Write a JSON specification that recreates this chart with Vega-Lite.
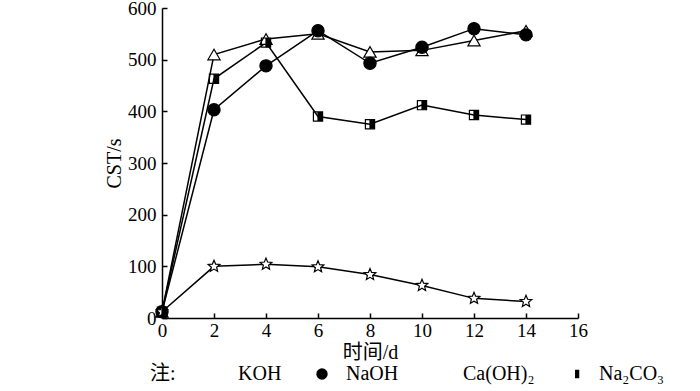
{
  "$schema": "https://vega.github.io/schema/vega-lite/v6.json",
  "autosize": {"type": "none"},
  "width": 416,
  "height": 310,
  "padding": {"left": 162, "top": 8, "right": 122, "bottom": 73},
  "background": "white",
  "config": {
    "view": {"stroke": null},
    "font": "Liberation Serif, DejaVu Serif, Noto Sans CJK SC",
    "axis": {
      "domainColor": "black", "domainWidth": 1.5, "tickColor": "black", "tickWidth": 1.5,
      "labelColor": "black", "titleColor": "black", "labelFontSize": 19, "titleFontSize": 20,
      "titleFontWeight": "normal", "grid": false,
      "labelFont": "Liberation Serif", "titleFont": "Liberation Serif, Noto Sans CJK SC"
    },
    "legend": {"labelFont": "Liberation Serif, DejaVu Serif", "titleFont": "Liberation Serif, Noto Sans CJK SC"}
  },
  "data": {"values": [
    {"t": 0, "v": 12, "s": "KOH"}, {"t": 2, "v": 510, "s": "KOH"}, {"t": 4, "v": 540, "s": "KOH"}, {"t": 6, "v": 550, "s": "KOH"}, {"t": 8, "v": 515, "s": "KOH"}, {"t": 10, "v": 518, "s": "KOH"}, {"t": 12, "v": 537, "s": "KOH"}, {"t": 14, "v": 556, "s": "KOH"},
    {"t": 0, "v": 12, "s": "NaOH"}, {"t": 2, "v": 403, "s": "NaOH"}, {"t": 4, "v": 488, "s": "NaOH"}, {"t": 6, "v": 556, "s": "NaOH"}, {"t": 8, "v": 493, "s": "NaOH"}, {"t": 10, "v": 524, "s": "NaOH"}, {"t": 12, "v": 560, "s": "NaOH"}, {"t": 14, "v": 548, "s": "NaOH"},
    {"t": 0, "v": 12, "s": "Ca(OH)₂"}, {"t": 2, "v": 100, "s": "Ca(OH)₂"}, {"t": 4, "v": 104, "s": "Ca(OH)₂"}, {"t": 6, "v": 99, "s": "Ca(OH)₂"}, {"t": 8, "v": 84, "s": "Ca(OH)₂"}, {"t": 10, "v": 63, "s": "Ca(OH)₂"}, {"t": 12, "v": 38, "s": "Ca(OH)₂"}, {"t": 14, "v": 32, "s": "Ca(OH)₂"},
    {"t": 0, "v": 12, "s": "Na₂CO₃"}, {"t": 2, "v": 463, "s": "Na₂CO₃"}, {"t": 4, "v": 533, "s": "Na₂CO₃"}, {"t": 6, "v": 390, "s": "Na₂CO₃"}, {"t": 8, "v": 375, "s": "Na₂CO₃"}, {"t": 10, "v": 412, "s": "Na₂CO₃"}, {"t": 12, "v": 393, "s": "Na₂CO₃"}, {"t": 14, "v": 384, "s": "Na₂CO₃"}
  ]},
  "encoding": {
    "x": {"field": "t", "type": "quantitative", "scale": {"domain": [0, 16], "nice": false},
      "axis": {"title": "时间/d", "values": [0, 2, 4, 6, 8, 10, 12, 14, 16], "tickSize": -5, "labelPadding": 8, "titlePadding": 2, "labelFlush": false}},
    "y": {"field": "v", "type": "quantitative", "scale": {"domain": [0, 600], "nice": false},
      "axis": {"title": "CST/s", "values": [0, 100, 200, 300, 400, 500, 600], "tickSize": -5, "labelPadding": 11, "titlePadding": 3, "labelFlush": false}}
  },
  "layer": [
    {
      "mark": {"type": "line", "color": "black", "strokeWidth": 1.5},
      "encoding": {"detail": {"field": "s"}}
    },
    {
      "mark": {"type": "point", "filled": true, "opacity": 1, "size": 150},
      "encoding": {
        "stroke": {"value": "black"},
        "strokeWidth": {"value": 1.2},
        "shape": {"field": "s", "type": "nominal", "sort": null,
          "scale": {"domain": ["KOH", "NaOH", "Ca(OH)₂", "Na₂CO₃"],
            "range": ["triangle-up", "circle", "M0,-1L0.265,-0.364L0.951,-0.309L0.428,0.139L0.588,0.809L0,0.45L-0.588,0.809L-0.428,0.139L-0.951,-0.309L-0.265,-0.364Z", "M0,-0.75H0.75V0.75H0ZM0,-0.75H-0.75V0.75H0H-0.75V-0.75H0"]},
          "legend": {
            "title": "注:", "orient": "none", "legendX": -12, "legendY": 356, "direction": "horizontal",
            "titleOrient": "left", "titleFontSize": 20, "titleFontWeight": "normal", "titleColor": "black", "titlePadding": 20,
            "labelFontSize": 20, "labelColor": "black", "labelOffset": 14, "columnPadding": 22,
            "symbolSize": 130, "symbolStrokeColor": "black", "symbolStrokeWidth": 1.3, "symbolOffset": 8
          }
        },
        "fill": {"field": "s", "type": "nominal", "sort": null,
          "scale": {"domain": ["KOH", "NaOH", "Ca(OH)₂", "Na₂CO₃"], "range": ["white", "black", "white", "black"]},
          "legend": null}
      }
    }
  ]
}
